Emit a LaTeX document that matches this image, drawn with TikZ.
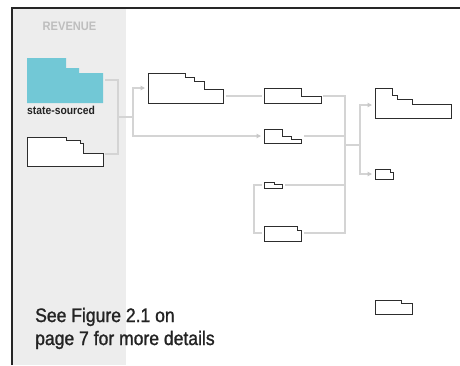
\documentclass[tikz,border=0pt]{standalone}
\usepackage{fontspec}
\newfontfamily\cond[FakeStretch=0.9,FakeBold=1.3]{Liberation Sans}
\newfontfamily\condb[FakeStretch=0.9]{Liberation Sans}
\usetikzlibrary{arrows.meta}
\definecolor{panel}{RGB}{237,237,237}
\definecolor{cyanfill}{RGB}{114,200,214}
\definecolor{conn}{RGB}{212,212,212}
\definecolor{tipc}{RGB}{200,200,200}
\definecolor{outl}{RGB}{45,45,45}
\definecolor{txt}{RGB}{35,35,35}
\definecolor{headc}{RGB}{190,190,190}
\tikzset{
  blockshape/.style={draw=outl, line width=0.9pt, fill=white, line join=miter},
  cyanshape/.style={fill=cyanfill, draw=none},
  connline/.style={draw=conn, line width=1.2pt},
  connarrow/.style={connline, -{Triangle[length=4.5pt,width=4.5pt,fill=tipc,color=tipc]}},
  frameline/.style={draw=black!85, line width=1.2pt},
}
\begin{document}
\begin{tikzpicture}[x=1pt,y=-1pt]
\useasboundingbox (0,0) rectangle (460,365);
% frame and panel
\fill[panel] (12.5,8.5) rectangle (126,365);
\draw[frameline] (12,365) -- (12,8) -- (460,8);
% heading
\node[anchor=center, text=headc, font=\condb\bfseries\fontsize{12.3}{14}\selectfont, inner sep=0pt] (rev) at (69.5,26.5) {REVENUE};
% shape 1 (cyan)
\path[cyanshape] (27,58) -- (66,58) -- (66,68) -- (79,68) -- (79,73) -- (103,73) -- (103,103) -- (27,103) -- cycle;
\node[anchor=base west, text=txt, font=\condb\bfseries\fontsize{11.5}{14}\selectfont, inner sep=0pt] (ss) at (27,114) {state-sourced};
% shape 2
\draw[blockshape] (27,137) -- (66,137) -- (66,140) -- (80,140) -- (80,143) -- (83,143) -- (83,153) -- (103,153) -- (103,166) -- (27,166) -- cycle;
% shape 3
\draw[blockshape] (148,73) -- (185,73) -- (185,77) -- (194,77) -- (194,81) -- (204,81) -- (204,89) -- (223,89) -- (223,103) -- (148,103) -- cycle;
% shape 4
\draw[blockshape] (264,88.5) -- (301,88.5) -- (301,96) -- (321,96) -- (321,103) -- (264,103) -- cycle;
% shape 5
\draw[blockshape] (264,129) -- (282,129) -- (282,136) -- (291,136) -- (291,139.5) -- (301,139.5) -- (301,143) -- (264,143) -- cycle;
% shape 6
\draw[blockshape] (375,88.5) -- (392.5,88.5) -- (392.5,95.5) -- (397.5,95.5) -- (397.5,99) -- (412,99) -- (412,104.5) -- (451,104.5) -- (451,118.3) -- (375,118.3) -- cycle;
% shape 7
\draw[blockshape] (375,169) -- (390,169) -- (390,172) -- (393,172) -- (393,179) -- (375,179) -- cycle;
% shape 8
\draw[blockshape] (264,182) -- (274,182) -- (274,184.5) -- (282,184.5) -- (282,188.3) -- (264,188.3) -- cycle;
% shape 9
\draw[blockshape] (264,226.7) -- (297.5,226.7) -- (297.5,230) -- (301.7,230) -- (301.7,241) -- (264,241) -- cycle;
% shape 10
\draw[blockshape] (375,300) -- (401,300) -- (401,303.3) -- (412,303.3) -- (412,314) -- (375,314) -- cycle;
% connector anchor coordinates
\coordinate (s1r) at (105,80);
\coordinate (s2r) at (105,154);
\coordinate (j1) at (118,117);
\coordinate (j2) at (133,117);
\coordinate (s3l) at (145,88);
\coordinate (s3r) at (226,96);
\coordinate (s4l) at (262,96);
\coordinate (s4r) at (323,96);
\coordinate (s5l) at (261,136);
\coordinate (s5r) at (304,136);
\coordinate (s8l) at (262,185);
\coordinate (s8r) at (285,185);
\coordinate (s9l) at (262,233);
\coordinate (s9r) at (304,233);
\coordinate (j3) at (345,145);
\coordinate (j4) at (360,145);
\coordinate (s6l) at (372,105);
\coordinate (s7l) at (372,174);
% connectors
\draw[connline] (s1r) -| (118,154) -- (s2r);
\draw[connline] (j1) -- (j2);
\draw[connarrow] (133,136) |- (s3l);
\draw[connarrow] (133,117) |- (s5l);
\draw[connline] (s3r) -- (s4l);
\draw[connline] (s4r) -| (345,233) -- (s9r);
\draw[connline] (s5r) -- (345,136);
\draw[connline] (s8r) -- (345,185);
\draw[connline] (s8l) -- (254,185) |- (s9l);
\draw[connline] (j3) -- (j4);
\draw[connarrow] (360,145) |- (s6l);
\draw[connarrow] (360,145) |- (s7l);
% footnote text
\node[anchor=base west, text=txt, font=\cond\fontsize{19.5}{23}\selectfont, inner sep=0pt] (fn1) at (35,322) {See Figure 2.1 on};
\node[anchor=base west, text=txt, font=\cond\fontsize{19.5}{23}\selectfont, inner sep=0pt] (fn2) at (35,345) {page 7 for more details};
\end{tikzpicture}
\end{document}
